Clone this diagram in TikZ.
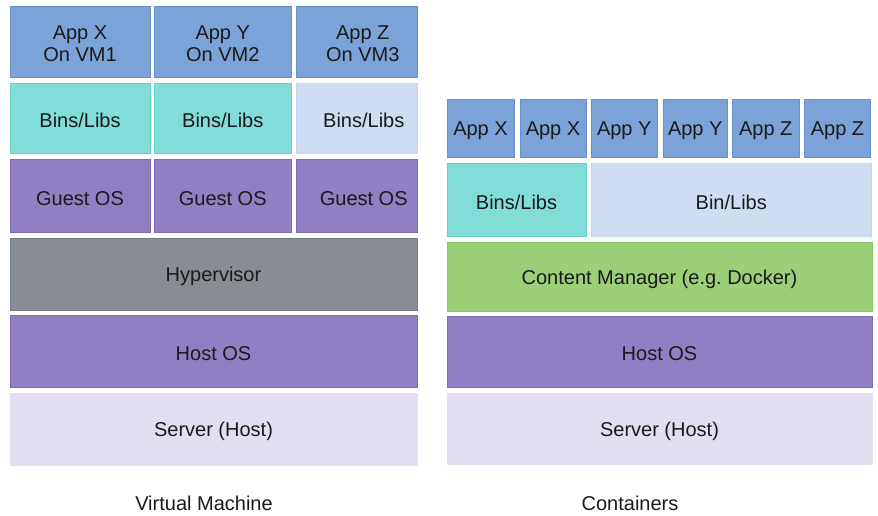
\documentclass[tikz,border=0pt]{standalone}
\usepackage{fontspec}
\setmainfont{Liberation Sans}
\frenchspacing
\definecolor{appfill}{HTML}{7BA3D7}
\definecolor{appline}{HTML}{6590CC}
\definecolor{tealfill}{HTML}{82DDD8}
\definecolor{tealline}{HTML}{62D1CA}
\definecolor{libfill}{HTML}{CFDDF3}
\definecolor{libline}{HTML}{C3D3EF}
\definecolor{osfill}{HTML}{9080C3}
\definecolor{osline}{HTML}{7E6BBA}
\definecolor{hypfill}{HTML}{878D93}
\definecolor{hypline}{HTML}{767C82}
\definecolor{srvfill}{HTML}{E3DFF0}
\definecolor{cmfill}{HTML}{9BCF78}
\definecolor{cmline}{HTML}{8AC564}
\definecolor{ink}{HTML}{1A1A1A}
\tikzset{
  layerbox/.style={rectangle, inner sep=0pt, outer sep=0pt, line width=0.8pt,
    anchor=north west},
  boxlabel/.style={text=ink, font=\fontsize{20}{22}\selectfont, align=center,
    inner sep=0pt},
  appbox/.style={layerbox, fill=appfill, draw=appline},
  tealbox/.style={layerbox, fill=tealfill, draw=tealline},
  libbox/.style={layerbox, fill=libfill, draw=libline},
  osbox/.style={layerbox, fill=osfill, draw=osline},
  hypbox/.style={layerbox, fill=hypfill, draw=hypline},
  srvbox/.style={layerbox, fill=srvfill, draw=srvfill},
  mgrbox/.style={layerbox, fill=cmfill, draw=cmline},
  captiontext/.style={text=ink, font=\fontsize{20}{22}\selectfont}
}
% box with top-left corner, width and height in picture units, and its label;
% the optional argument holds extra options for the label
\newcommand{\stackbox}[7][]{%
  \node[#2, minimum width=#5pt, minimum height=#6pt] (#3) at (#4) {};
  \node[boxlabel, #1] (#3-text) at ([yshift=-2.5pt]#3.center) {#7};}
\begin{document}
\begin{tikzpicture}[x=1pt,y=-1pt]
\useasboundingbox (0,0) rectangle (878,516);
% ---------- Virtual machine stack ----------
\stackbox{appbox}{vmappx}{10,6}{140}{71}{App X\\On VM1}
\stackbox{appbox}{vmappy}{154.5,6}{136.5}{71}{App Y\\On VM2}
\stackbox[xshift=6pt]{appbox}{vmappz}{296.5,6}{120.5}{71}{App Z\\On VM3}
\stackbox{tealbox}{vmlibx}{10,83.5}{140}{69.5}{Bins/Libs}
\stackbox{tealbox}{vmliby}{154.5,83.5}{136.5}{69.5}{Bins/Libs}
\stackbox[xshift=7pt]{libbox}{vmlibz}{296.5,83.5}{120.5}{69.5}{Bins/Libs}
\stackbox{osbox}{vmosx}{10,159.5}{140}{72.5}{Guest OS}
\stackbox{osbox}{vmosy}{154.5,159.5}{136.5}{72.5}{Guest OS}
\stackbox[xshift=7pt]{osbox}{vmosz}{296.5,159.5}{120.5}{72.5}{Guest OS}
\stackbox{hypbox}{vmhyp}{10,238}{407}{72}{Hypervisor}
\stackbox{osbox}{vmhost}{10,315}{407}{72}{Host OS}
\stackbox{srvbox}{vmsrv}{10,393.5}{407}{71.5}{Server (Host)}
\node[captiontext] (vmcap) at (204,503) {Virtual Machine};
% ---------- Container stack ----------
\stackbox{appbox}{cax1}{447,99.5}{67}{57.5}{App X}
\stackbox{appbox}{cax2}{520,99.5}{66}{57.5}{App X}
\stackbox{appbox}{cay1}{591.5,99.5}{65.5}{57.5}{App Y}
\stackbox{appbox}{cay2}{663,99.5}{64.5}{57.5}{App Y}
\stackbox{appbox}{caz1}{732.5,99.5}{66.5}{57.5}{App Z}
\stackbox{appbox}{caz2}{804.5,99.5}{66}{57.5}{App Z}
\stackbox{tealbox}{clibx}{447,163.5}{139}{72.5}{Bins/Libs}
\stackbox{libbox}{clibyz}{591.5,163.5}{279.5}{72.5}{Bin/Libs}
\stackbox{mgrbox}{ccm}{447,242}{425}{69}{Content Manager (e.g. Docker)}
\stackbox{osbox}{chost}{447,316}{425}{71}{Host OS}
\stackbox{srvbox}{csrv}{447,393.5}{425}{70.5}{Server (Host)}
\node[captiontext] (ccap) at (630,503) {Containers};
\end{tikzpicture}
\end{document}
